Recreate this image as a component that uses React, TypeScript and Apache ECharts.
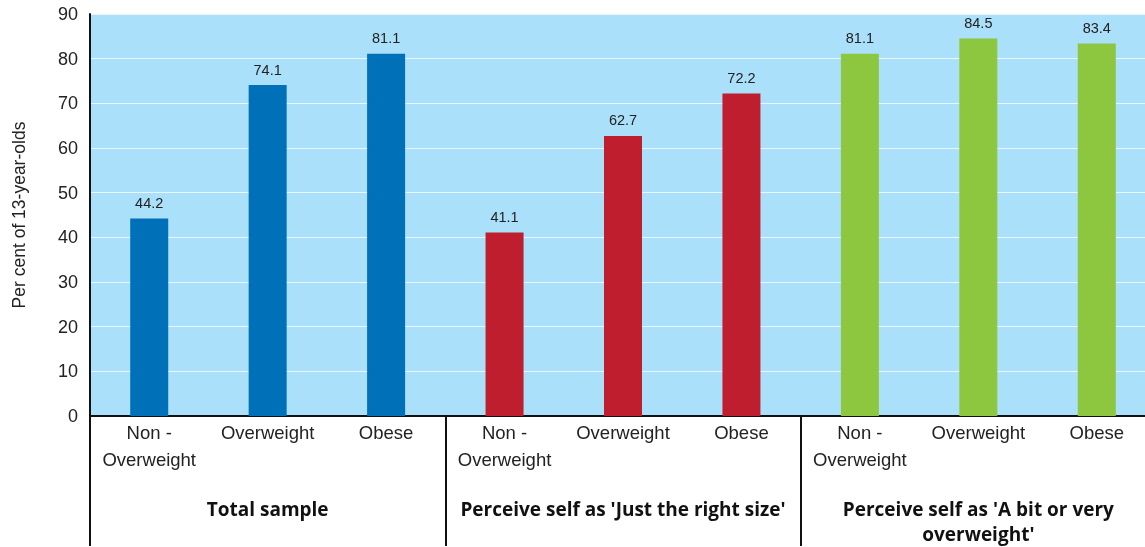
import React, { useEffect, useRef } from "react";
import * as echarts from "echarts";

const categories = [
  "Non -\nOverweight", "Overweight", "Obese",
  "Non -\nOverweight", "Overweight", "Obese",
  "Non -\nOverweight", "Overweight", "Obese",
];
const groups = [
  "Total sample",
  "Perceive self as 'Just the right size'",
  "Perceive self as 'A bit or very\noverweight'",
];
const values = [44.2, 74.1, 81.1, 41.1, 62.7, 72.2, 81.1, 84.5, 83.4];
const groupColors = ["#0070b8", "#be1e2d", "#8dc63f"];
const yTicks = { min: 0, max: 90, interval: 10 };
const yName = "Per cent of 13-year-olds";

export default function App() {
  const ref = useRef<HTMLDivElement>(null);
  useEffect(() => {
    if (!ref.current) return;
    const chart = echarts.init(ref.current, null, { renderer: "svg" });
    const font = "'Liberation Sans', Arial, Helvetica, sans-serif";
    chart.setOption({
      animation: false,
      grid: {
        left: 90,
        top: 14,
        height: 402,
        width: 1066,
        show: true,
        backgroundColor: "#abe0fa",
        borderWidth: 0,
        containLabel: false,
        outerBoundsMode: "none",
      },
      xAxis: [
        {
          type: "category",
          data: categories,
          position: "bottom",
          axisLine: { show: true, lineStyle: { color: "#111", width: 2 } },
          axisTick: {
            show: true,
            interval: (i: number) => i % 3 === 0,
            length: 130,
            lineStyle: { color: "#111", width: 2 },
          },
          axisLabel: {
            interval: 0,
            margin: 3,
            fontSize: 18.5,
            lineHeight: 27,
            color: "#222",
            fontFamily: font,
          },
        },
        {
          type: "category",
          data: groups,
          position: "bottom",
          axisLine: { show: false },
          axisTick: { show: false },
          axisLabel: {
            interval: 0,
            margin: 80,
            fontSize: 19,
            lineHeight: 25.5,
            fontWeight: "bold",
            color: "#111",
            fontFamily: "'Open Sans', 'Noto Sans', sans-serif",
          },
        },
      ],
      yAxis: {
        type: "value",
        min: yTicks.min,
        max: yTicks.max,
        interval: yTicks.interval,
        name: yName,
        nameLocation: "middle",
        nameGap: 62,
        nameTextStyle: { fontSize: 17.5, color: "#222", fontFamily: font },
        axisLine: { show: true, lineStyle: { color: "#111", width: 2 } },
        axisTick: { show: false },
        axisLabel: { fontSize: 18, color: "#222", margin: 12, fontFamily: font },
        splitLine: { show: true, lineStyle: { color: "#e8f6fd", width: 1 } },
      },
      series: [
        {
          type: "bar",
          xAxisIndex: 0,
          barWidth: 38,
          data: values.map((v, i) => ({
            value: v,
            itemStyle: { color: groupColors[Math.floor(i / 3)] },
          })),
          label: {
            show: true,
            position: "top",
            distance: 8,
            fontSize: 14.5,
            color: "#222",
            fontFamily: font,
            formatter: (p: any) => p.value.toFixed(1),
          },
        },
      ],
    });
    return () => chart.dispose();
  }, []);
  return (
    <div
      ref={ref}
      style={{ position: "fixed", left: 0, top: 0, width: 1145, height: 547 }}
    />
  );
}
